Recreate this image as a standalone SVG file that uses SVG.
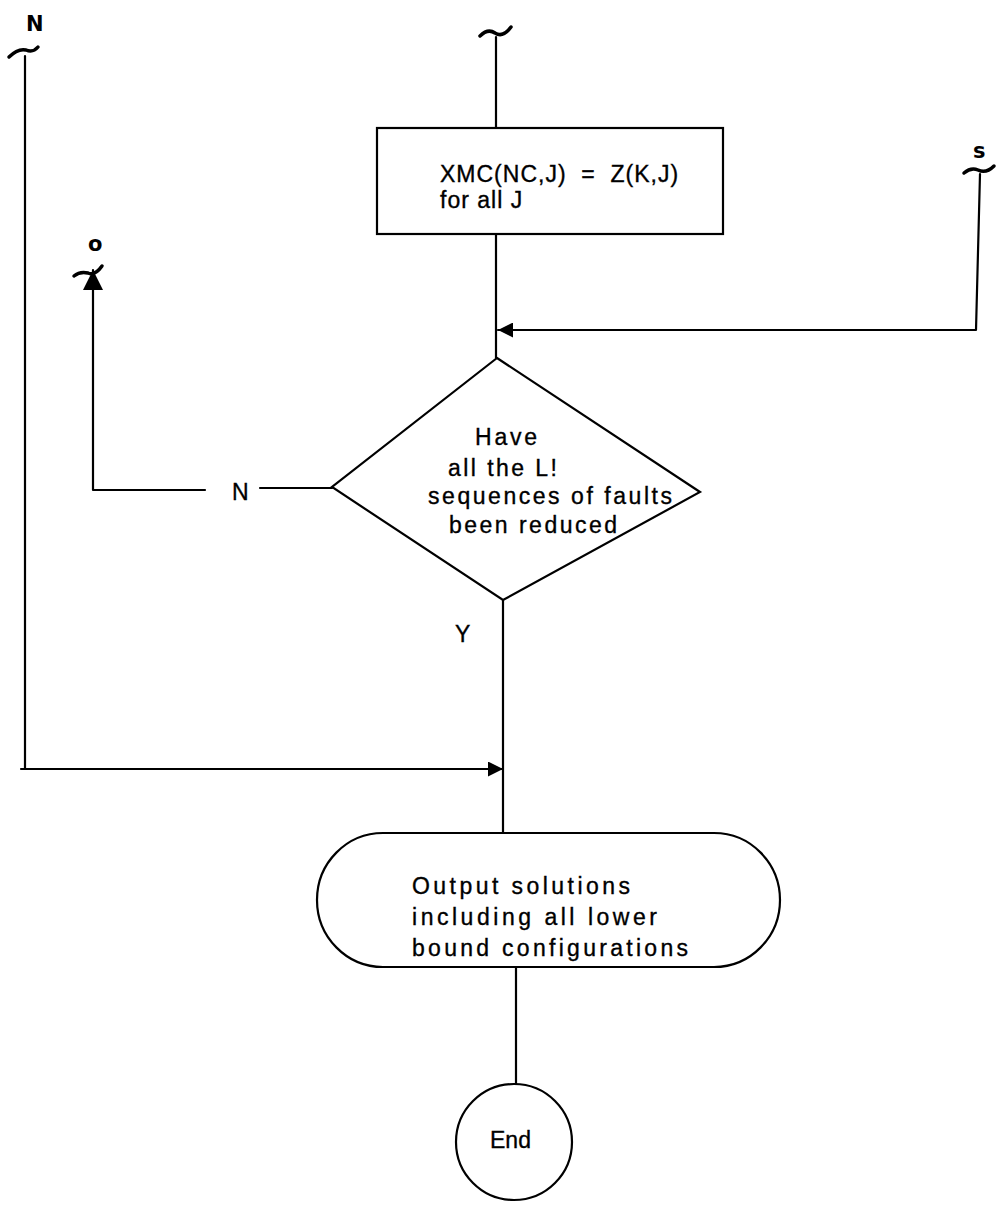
<svg xmlns="http://www.w3.org/2000/svg" width="1000" height="1209" viewBox="0 0 1000 1209">
<style>
.ln{fill:none;stroke:#000;stroke-width:2.2;stroke-linecap:round;stroke-linejoin:round}
.sh{fill:#fff;stroke:#000;stroke-width:2.2}
.t{font-family:"Liberation Sans",Arial,sans-serif;font-size:23px;fill:#000;stroke:#000;stroke-width:0.35}
.hw{font-family:"DejaVu Sans",sans-serif;font-weight:bold;font-size:21px;fill:#000}
.tl{fill:none;stroke:#000;stroke-width:3.5;stroke-linecap:round}
</style>
<defs>
<marker id="ahb" viewBox="0 0 10 10" refX="10" refY="5" markerWidth="15" markerHeight="15" orient="auto" markerUnits="userSpaceOnUse">
<path d="M0,0 L10,5 L0,10 z" fill="#000"/>
</marker>
<marker id="ahbig" viewBox="0 0 10 10" refX="10" refY="5" markerWidth="20" markerHeight="22" orient="auto" markerUnits="userSpaceOnUse">
<path d="M0,0 L10,5 L0,10 z" fill="#000"/>
</marker>
</defs>
<g id="connectors">
<path class="ln" d="M496,37 V128"/>
<path class="ln" d="M496,234 V358"/>
<path class="ln" d="M980,174 L976,330 H498" marker-end="url(#ahb)"/>
<path class="ln" d="M503,600 V833"/>
<path class="ln" d="M25,56 V769"/>
<path class="ln" d="M21,769 H503" marker-end="url(#ahb)"/>
<path class="ln" d="M516,967 V1084"/>
<path class="ln" d="M332,488 H260"/>
<path class="ln" d="M205,490 H93 V270" marker-end="url(#ahbig)"/>
<text class="t" x="232" y="500">N</text>
<text class="t" x="455" y="642">Y</text>
</g>
<g id="conn-top">
<path class="tl" d="M480,36 Q488,28 495,33 Q503,38 511,27"/>
</g>
<g id="conn-left">
<path class="tl" d="M9,57 Q18,48 26,50 Q33,53 38,47"/>
<text class="hw" x="26" y="31">N</text>
</g>
<g id="conn-right">
<path class="tl" d="M964,173 Q971,167 978,170 Q986,174 994,166"/>
<text class="hw" x="973" y="158">s</text>
</g>
<g id="conn-o">
<path class="tl" d="M74,276 Q80,271 88,273 Q95,276 102,266"/>
<text class="hw" x="88" y="251">o</text>
</g>
<g id="box">
<rect class="sh" x="377" y="128" width="346" height="106"/>
<text class="t" x="440" y="182" xml:space="preserve" letter-spacing="1">XMC(NC,J)  =  Z(K,J)</text>
<text class="t" x="440" y="208" letter-spacing="1">for all J</text>
</g>
<g id="decision">
<polygon class="sh" points="497,358 700,492 503,600 332,487"/>
<text class="t" x="475" y="445" textLength="62" lengthAdjust="spacing">Have</text>
<text class="t" x="448" y="476" textLength="109" lengthAdjust="spacing">all the L!</text>
<text class="t" x="428" y="504" textLength="244" lengthAdjust="spacing">sequences of faults</text>
<text class="t" x="449" y="533" textLength="168" lengthAdjust="spacing">been reduced</text>
</g>
<g id="output">
<rect class="sh" x="317" y="833" width="463" height="134" rx="66" ry="67"/>
<text class="t" x="412" y="894" textLength="218" lengthAdjust="spacing">Output solutions</text>
<text class="t" x="412" y="925" textLength="245" lengthAdjust="spacing">including all lower</text>
<text class="t" x="412" y="956" textLength="276" lengthAdjust="spacing">bound configurations</text>
</g>
<g id="end">
<circle class="sh" cx="514" cy="1142" r="58"/>
<text class="t" x="490" y="1148" font-size="24">End</text>
</g>
</svg>
